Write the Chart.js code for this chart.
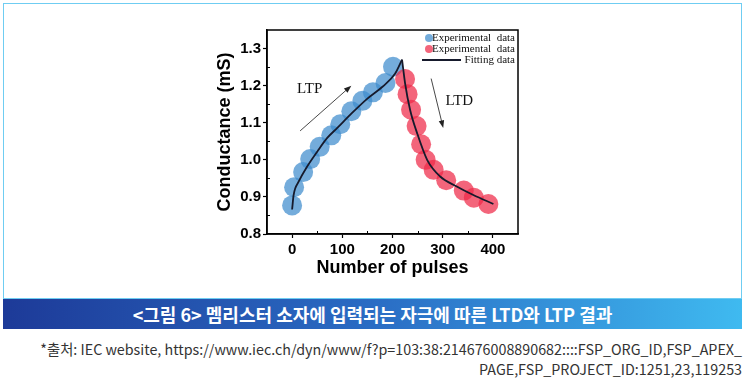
<!DOCTYPE html>
<html>
<head>
<meta charset="utf-8">
<script src="https://cdn.jsdelivr.net/npm/chart.js@4.4.0/dist/chart.umd.min.js"></script>
<style>
  body { margin: 0; width: 745px; height: 388px; background: #fff; position: relative; overflow: hidden; }
  #frame { position: absolute; left: 3px; top: 3px; width: 737px; height: 294px; border: 1px solid #6fcdf2; }
  #chart1 { position: absolute; left: 0; top: 0; }
  #banner { position: absolute; left: 3px; top: 299px; width: 739px; height: 30px;
    background: linear-gradient(90deg, #1d3a98 0%, #2a6cc4 50%, #3fbaf0 100%);
    color: #fff; font: bold 18px "Noto Sans CJK KR", sans-serif; text-align: center; line-height: 30px; }
  #source { position: absolute; right: 3px; top: 339px; width: 740px; text-align: right;
    color: #333; font: 14.3px "Noto Sans CJK KR", sans-serif; line-height: 20px; }
</style>
</head>
<body>
<div id="frame"></div>
<canvas id="chart1" width="745" height="300"></canvas>
<div id="banner">&lt;그림 6&gt; 멤리스터 소자에 입력되는 자극에 따른 LTD와 LTP 결과</div>
<div id="source">*출처: IEC website, https://www.iec.ch/dyn/www/f?p=103:38:214676008890682::::FSP_ORG_ID,FSP_APEX_<br>PAGE,FSP_PROJECT_ID:1251,23,119253</div>
<script>
var ctx1 = document.getElementById('chart1');

// LTP measurements (blue)
var pulsesLTP = [0, 4, 22, 36, 55, 78, 96, 118, 140, 161, 186, 201];
var condLTP = [0.877, 0.926, 0.967, 1.002, 1.035, 1.066, 1.096, 1.131, 1.159, 1.182, 1.207, 1.251];

// LTD measurements (red)
var pulsesLTD = [225, 230, 237, 248, 257, 266, 282, 307, 342, 362, 391];
var condLTD = [1.218, 1.177, 1.135, 1.091, 1.042, 1.0, 0.973, 0.945, 0.917, 0.898, 0.881];

// fitted curves
var fitXLTP = [0, 3, 13, 30, 50, 70, 90, 120, 150, 180, 205, 219];
var fitYLTP = [0.866, 0.905, 0.941, 0.982, 1.022, 1.059, 1.086, 1.127, 1.165, 1.197, 1.232, 1.27];
var fitXLTD = [219, 225, 235, 249, 269, 295, 328, 361, 401];
var fitYLTD = [1.27, 1.207, 1.135, 1.072, 1.0, 0.955, 0.928, 0.905, 0.881];

var xTicks = [0, 100, 200, 300, 400];
var yTicks = [0.8, 0.9, 1.0, 1.1, 1.2, 1.3];
var xMinor = [50, 150, 250, 350];
var yMinor = [0.85, 0.95, 1.05, 1.15, 1.25];

// text labels + arrows in data units
var ltpLabel = {text: 'LTP', x: 35, y: 1.192};
var ltpArrow = {x1: 16, y1: 1.078, x2: 118, y2: 1.2};
var ltdLabel = {text: 'LTD', x: 333, y: 1.159};
var ltdArrow = {x1: 277, y1: 1.219, x2: 301, y2: 1.086};

function pts(xs, ys) {
    return xs.map(function (x, i) { return {x: x, y: ys[i]}; });
}

var blue = 'rgba(62, 140, 205, 0.72)';
var red = 'rgba(238, 42, 72, 0.72)';
var fitColor = '#161a2c';

var framePlugin = {
    id: 'frameAndNotes',
    afterDatasetsDraw: function (chart) {
        var c = chart.ctx, a = chart.chartArea;
        var sx = chart.scales.x, sy = chart.scales.y;
        c.save();
        c.strokeStyle = '#000';
        c.lineWidth = 1.5;
        c.strokeRect(a.left, a.top, a.right - a.left, a.bottom - a.top);

        // minor ticks point inward
        c.lineWidth = 1;
        c.beginPath();
        xMinor.forEach(function (v) {
            var px = Math.round(sx.getPixelForValue(v)) + 0.5;
            c.moveTo(px, a.bottom);
            c.lineTo(px, a.bottom - 3);
        });
        yMinor.forEach(function (v) {
            var py = Math.round(sy.getPixelForValue(v)) + 0.5;
            c.moveTo(a.left, py);
            c.lineTo(a.left + 3, py);
        });
        c.stroke();

        // annotations
        c.fillStyle = '#111';
        c.font = '15px "Liberation Serif", serif';
        c.textAlign = 'center';
        c.textBaseline = 'middle';
        [ltpLabel, ltdLabel].forEach(function (l) {
            c.fillText(l.text, sx.getPixelForValue(l.x), sy.getPixelForValue(l.y));
        });
        [ltpArrow, ltdArrow].forEach(function (ar) {
            var x1 = sx.getPixelForValue(ar.x1), y1 = sy.getPixelForValue(ar.y1);
            var x2 = sx.getPixelForValue(ar.x2), y2 = sy.getPixelForValue(ar.y2);
            var ang = Math.atan2(y2 - y1, x2 - x1);
            c.strokeStyle = '#333';
            c.lineWidth = 0.9;
            c.beginPath();
            c.moveTo(x1, y1);
            c.lineTo(x2 - 5 * Math.cos(ang), y2 - 5 * Math.sin(ang));
            c.stroke();
            c.beginPath();
            c.moveTo(x2, y2);
            c.lineTo(x2 - 8 * Math.cos(ang - 0.35), y2 - 8 * Math.sin(ang - 0.35));
            c.lineTo(x2 - 8 * Math.cos(ang + 0.35), y2 - 8 * Math.sin(ang + 0.35));
            c.closePath();
            c.fillStyle = '#222';
            c.fill();
        });

        // legend, top right inside the frame
        var ds = chart.data.datasets;
        var right = a.right - 3;
        c.font = '11px "Liberation Serif", serif';
        c.textAlign = 'right';
        c.fillStyle = '#111';
        var rows = [a.top + 8, a.top + 19, a.top + 30];
        c.fillText(ds[0].label, right, rows[0]);
        c.fillText(ds[1].label, right, rows[1]);
        c.fillText(ds[2].label, right, rows[2]);
        c.beginPath();
        c.arc(a.left + 162, rows[0], 4, 0, Math.PI * 2);
        c.fillStyle = ds[0].backgroundColor;
        c.fill();
        c.beginPath();
        c.arc(a.left + 162, rows[1], 4, 0, Math.PI * 2);
        c.fillStyle = ds[1].backgroundColor;
        c.fill();
        c.beginPath();
        c.moveTo(a.left + 155, rows[2]);
        c.lineTo(a.left + 194, rows[2]);
        c.strokeStyle = fitColor;
        c.lineWidth = 2;
        c.stroke();
        c.restore();
    }
};

var myChart1 = new Chart(ctx1, {
    type: 'scatter',
    data: {
        datasets: [{
            label: 'Experimental  data',
            data: pts(pulsesLTP, condLTP),
            backgroundColor: blue,
            pointRadius: 10,
            pointBorderWidth: 0,
            order: 3
        }, {
            label: 'Experimental  data',
            data: pts(pulsesLTD, condLTD),
            backgroundColor: red,
            pointRadius: 10,
            pointBorderWidth: 0,
            order: 2
        }, {
            label: 'Fitting data',
            data: pts(fitXLTP, fitYLTP),
            showLine: true,
            borderColor: fitColor,
            borderWidth: 1.8,
            pointRadius: 0,
            cubicInterpolationMode: 'monotone',
            order: 1
        }, {
            label: 'Fitting data',
            data: pts(fitXLTD, fitYLTD),
            showLine: true,
            borderColor: fitColor,
            borderWidth: 1.8,
            pointRadius: 0,
            cubicInterpolationMode: 'monotone',
            order: 0
        }]
    },
    options: {
        responsive: false,
        animation: false,
        devicePixelRatio: 1,
        layout: { padding: { left: 200, right: 227, top: 30, bottom: 16 } },
        plugins: {
            legend: { display: false },
            tooltip: { enabled: false }
        },
        scales: {
            x: {
                type: 'linear',
                min: -50,
                max: 450,
                afterFit: function (s) { s.height = 50; },
                afterBuildTicks: function (s) {
                    s.ticks = xTicks.map(function (v) { return {value: v}; });
                },
                border: { display: true, color: '#000', width: 1.5 },
                grid: {
                    drawOnChartArea: false,
                    drawTicks: true,
                    tickLength: 4,
                    tickColor: '#000',
                    tickWidth: 1.2
                },
                ticks: {
                    autoSkip: false,
                    maxRotation: 0,
                    padding: 3,
                    color: '#000',
                    font: { family: '"Liberation Sans", Arial, sans-serif', size: 15, weight: 'bold' },
                    callback: function (v) { return String(v); }
                },
                title: {
                    display: true,
                    text: 'Number of pulses',
                    color: '#000',
                    padding: { top: 0, bottom: 5 },
                    font: { family: '"Liberation Sans", Arial, sans-serif', size: 18, weight: 'bold' }
                }
            },
            y: {
                min: 0.8,
                max: 1.35,
                afterFit: function (s) { s.width = 67; },
                afterBuildTicks: function (s) {
                    s.ticks = yTicks.map(function (v) { return {value: v}; });
                },
                border: { display: true, color: '#000', width: 1.5 },
                grid: {
                    drawOnChartArea: false,
                    drawTicks: true,
                    tickLength: 4,
                    tickColor: '#000',
                    tickWidth: 1.2
                },
                ticks: {
                    autoSkip: false,
                    padding: 2,
                    color: '#000',
                    font: { family: '"Liberation Sans", Arial, sans-serif', size: 15, weight: 'bold' },
                    callback: function (v) { return v.toFixed(1); }
                },
                title: {
                    display: true,
                    text: 'Conductance (mS)',
                    color: '#000',
                    padding: { top: 14, bottom: 0 },
                    font: { family: '"Liberation Sans", Arial, sans-serif', size: 18, weight: 'bold' }
                }
            }
        }
    },
    plugins: [framePlugin]
});
</script>
</body>
</html>
